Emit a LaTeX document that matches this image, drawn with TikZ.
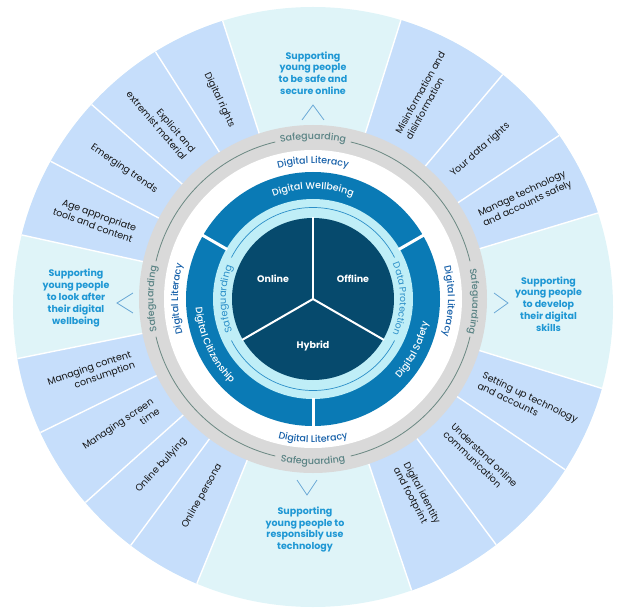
\documentclass[tikz,border=0pt]{standalone}
\usepackage{fontspec}
\setmainfont{Poppins}
\IfFontExistsTF{Poppins Medium}
    {\newfontfamily\mediumfont{Poppins Medium}}
    {\newcommand\mediumfont{\bfseries}}
\usepackage{tikz}
\usetikzlibrary{decorations.text}
\usetikzlibrary{positioning}

\definecolor{aimfill}{HTML}{DFF4F8}
\definecolor{topicfill}{HTML}{C6DEFB}
\definecolor{ringgray}{HTML}{D9D9D9}
\definecolor{guardline}{HTML}{6A8882}
\definecolor{guardink}{HTML}{5A8384}
\definecolor{literacyink}{HTML}{1660A9}
\definecolor{bandblue}{HTML}{0A7AB5}
\definecolor{bandcyan}{HTML}{BFEEF7}
\definecolor{cyanink}{HTML}{2C8FC8}
\definecolor{coreblue}{HTML}{064A6D}
\definecolor{aimink}{HTML}{1E97D4}
\definecolor{chevron}{HTML}{6BA9D6}
\definecolor{topicink}{HTML}{141414}

\tikzstyle{topic_left} = [
    anchor=east,
    align=right,
    text=topicink,
    inner sep=0pt,
    font=\fontsize{9.5}{11.5}\selectfont
]
\tikzstyle{topic_right} = [
    anchor=west,
    align=left,
    text=topicink,
    inner sep=0pt,
    font=\fontsize{9.5}{11.5}\selectfont
]
\tikzstyle{aim_text} = [
    align=center,
    text=aimink,
    inner sep=0pt,
    font=\bfseries\fontsize{9.5}{11.8}\selectfont
]
\tikzstyle{core_text} = [
    text=white,
    inner sep=0pt,
    font=\bfseries\fontsize{9.5}{11}\selectfont
]
\tikzstyle{aim_arrow} = [
    draw=chevron,
    line width=0.8pt
]
\tikzstyle{guard_text} = [
    decorate,
    decoration={text along path, text align=center,
        text={|\mediumfont\fontsize{9.5}{10}\selectfont\color{guardink}|Safeguarding}}
]
\tikzstyle{literacy_text} = [
    decorate,
    decoration={text along path, text align=center,
        text={|\mediumfont\fontsize{9.5}{10}\selectfont\color{literacyink}|Digital Literacy}}
]
\tikzstyle{band_text} = [
    decorate,
    decoration={text along path, text align=center}
]

\begin{document}
\begin{tikzpicture}[x=1pt, y=1pt]
\useasboundingbox (-313,-314) rectangle (310,299);
\coordinate (hub) at (0,0);

% outer wedges
\fill [aimfill] (0,-8) circle [radius=300];
\begin{scope}
    \clip (0,-8) circle [radius=300];
    \fill [topicfill] (hub) -- (16.8:340) arc [start angle=16.8, end angle=72.5, radius=340] -- cycle;
    \fill [topicfill] (hub) -- (108:340) arc [start angle=108, end angle=167.6, radius=340] -- cycle;
    \fill [topicfill] (hub) -- (191.4:340) arc [start angle=191.4, end angle=247.8, radius=340] -- cycle;
    \fill [topicfill] (hub) -- (288.7:340) arc [start angle=288.7, end angle=342.8, radius=340] -- cycle;
    \foreach \a in {16.8, 33.6, 49.8, 72.5, 108, 122.5, 138.7, 152.3, 167.6,
                    191.4, 206.1, 221.8, 233.5, 247.8, 288.7, 306.7, 325.9, 342.8}
        \draw [white, line width=1.4pt] (\a:170) -- (\a:340);
\end{scope}

% rings
\fill [ringgray] (hub) circle [radius=174];
\fill [white] (hub) circle [radius=149];
\fill [bandblue] (hub) circle [radius=127];
\fill [bandcyan] (hub) circle [radius=100];
\fill [coreblue] (hub) circle [radius=81];
\draw [white, line width=3pt] (30:99) -- (30:128);
\draw [white, line width=3pt] (150:99) -- (150:128);
\draw [white, line width=3pt] (270:99) -- (270:128);
\draw [white, line width=2pt] (hub) -- (90:82);
\draw [white, line width=2pt] (hub) -- (210:82);
\draw [white, line width=2pt] (hub) -- (330:82);

% thin arcs
\draw [guardline, line width=0.8pt] (13.5:161.5) arc [start angle=13.5, end angle=76.5, radius=161.5];
\draw [guardline, line width=0.8pt] (103.5:161.5) arc [start angle=103.5, end angle=166.5, radius=161.5];
\draw [guardline, line width=0.8pt] (193.5:161.5) arc [start angle=193.5, end angle=256.5, radius=161.5];
\draw [guardline, line width=0.8pt] (283.5:161.5) arc [start angle=283.5, end angle=346.5, radius=161.5];
\draw [cyanink, line width=0.7pt] (27:91.5) arc [start angle=27, end angle=153, radius=91.5];
\draw [cyanink, line width=0.7pt] (207:91.5) arc [start angle=207, end angle=333, radius=91.5];

% ring labels
\path [guard_text] (130:159.5) arc [start angle=130, end angle=50, radius=159.5];
\path [guard_text] (39:159.5) arc [start angle=39, end angle=-41, radius=159.5];
\path [guard_text] (220:159.5) arc [start angle=220, end angle=140, radius=159.5];
\path [guard_text] (230:165.5) arc [start angle=230, end angle=310, radius=165.5];
\path [literacy_text] (130:135.5) arc [start angle=130, end angle=50, radius=135.5];
\path [literacy_text] (39:135) arc [start angle=39, end angle=-41, radius=135];
\path [literacy_text] (220:135) arc [start angle=220, end angle=140, radius=135];
\path [literacy_text] (230:143.5) arc [start angle=230, end angle=310, radius=143.5];
\path [band_text, decoration={text={|\mediumfont\fontsize{9.5}{10}\selectfont\color{white}|Digital Wellbeing}}]
    (135:110) arc [start angle=135, end angle=45, radius=110];
\path [band_text, decoration={text={|\mediumfont\fontsize{9.5}{10}\selectfont\color{white}|Digital Safety}}]
    (-67:117.5) arc [start angle=-67, end angle=13, radius=117.5];
\path [band_text, decoration={text={|\mediumfont\fontsize{9.5}{10}\selectfont\color{white}|Digital Citizenship}}]
    (160:117.5) arc [start angle=160, end angle=250, radius=117.5];
\path [band_text, decoration={text={|\fontsize{9.8}{11}\selectfont\color{cyanink}|Safeguarding}}]
    (215:87) arc [start angle=215, end angle=145, radius=87];
\path [band_text, decoration={text={|\fontsize{9.3}{11}\selectfont\color{cyanink}|Data Protection}}]
    (38:87) arc [start angle=38, end angle=-38, radius=87];

% core
\node [core_text] (online) at (-40,20) {Online};
\node [core_text] (offline) at (40,20) {Offline};
\node [core_text] (hybrid) at (0,-47) {Hybrid};

% aims
\node [aim_text] (aim_safe) at (0,226) {Supporting\\young people\\to be safe and\\secure online};
\node [aim_text] (aim_skills) at (235.5,-5) {Supporting\\young people\\to develop\\their digital\\skills};
\node [aim_text] (aim_wellbeing) at (-237,1) {Supporting\\young people\\to look after\\their digital\\wellbeing};
\node [aim_text] (aim_use) at (-8,-230.5) {Supporting\\young people to\\responsibly use\\technology};
\draw [aim_arrow] (-11,179) -- (0,194) -- (11,179);
\draw [aim_arrow] (181,6) -- (195,-4) -- (181,-14);
\draw [aim_arrow] (-180,6) -- (-196,-4) -- (-180,-14);
\draw [aim_arrow] (-16,-181) -- (-6,-196) -- (4,-181);

% topics
\node [topic_left, rotate=-64.75] (rights) at (115.25:190) {Digital rights};
\node [topic_left, rotate=-49.4] (extremist) at (130.6:190) {Explicit and\\extremist material};
\node [topic_left, rotate=-34.5] (trends) at (145.5:190) {Emerging trends};
\node [topic_left, rotate=-20] (age) at (160:190) {Age appropriate\\tools and content};
\node [topic_left, rotate=18.75] (consumption) at (198.75:190) {Managing content\\consumption};
\node [topic_left, rotate=34] (screen) at (214:190) {Managing screen\\time};
\node [topic_left, rotate=47.65] (bullying) at (227.65:190) {Online bullying};
\node [topic_left, rotate=60.65] (persona) at (240.65:190) {Online persona};
\node [topic_right, rotate=61.15] (misinfo) at (61.15:186) {Misinformation and\\disinformation};
\node [topic_right, rotate=41.7] (data_rights) at (41.7:186) {Your data rights};
\node [topic_right, rotate=25.2] (manage) at (25.2:186) {Manage technology\\and accounts safely};
\node [topic_right, rotate=-25.65] (setting) at (-25.65:186) {Setting up technology\\and accounts};
\node [topic_right, rotate=-43.7] (communication) at (-43.7:188) {Understand online\\communication};
\node [topic_right, rotate=-62.3] (footprint) at (-62.3:188) {Digital identity\\and footprint};
\end{tikzpicture}
\end{document}
